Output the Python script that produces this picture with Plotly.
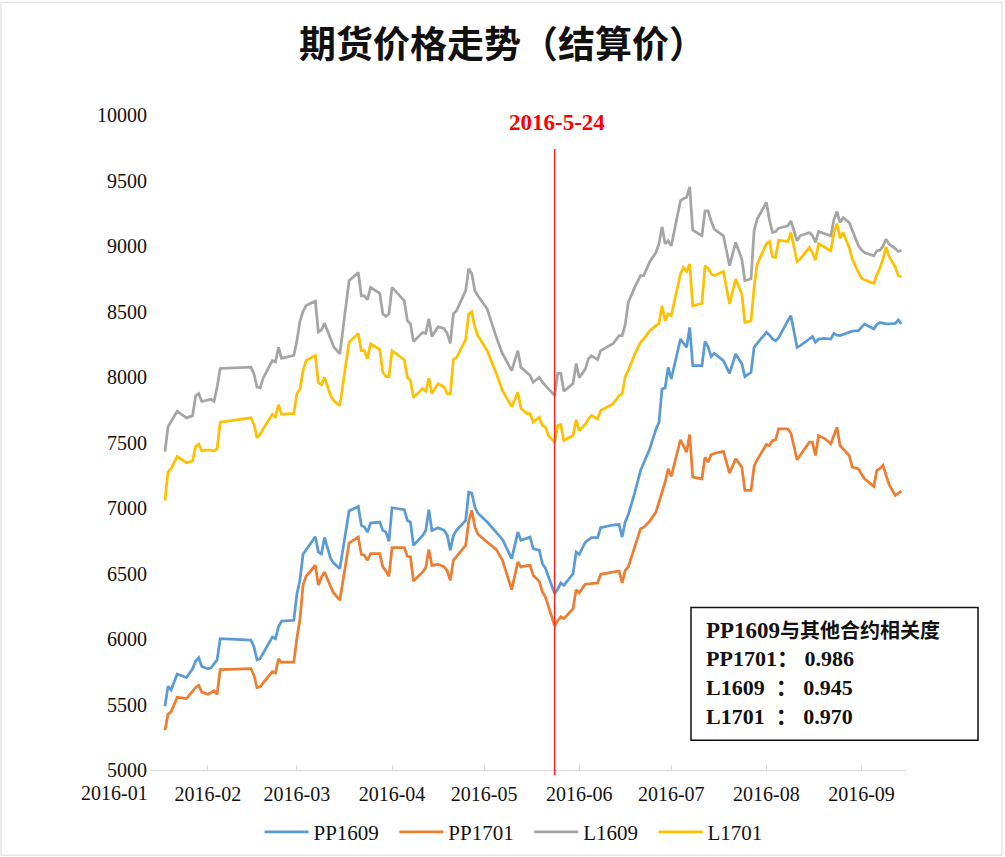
import plotly.graph_objects as go

# ---------------- data (settlement prices) ----------------
dates = [
    # Jan
    "2016-01-18", "2016-01-19", "2016-01-20", "2016-01-22", "2016-01-25", "2016-01-27", "2016-01-28", "2016-01-29", "2016-01-30",
    # Feb
    "2016-02-01", "2016-02-02", "2016-02-03", "2016-02-04", "2016-02-05", "2016-02-15", "2016-02-16", "2016-02-17", "2016-02-18",
    "2016-02-19", "2016-02-22", "2016-02-23", "2016-02-24", "2016-02-25", "2016-02-29",
    # Mar
    "2016-03-01", "2016-03-02", "2016-03-03", "2016-03-04", "2016-03-07", "2016-03-08", "2016-03-09", "2016-03-10", "2016-03-12",
    "2016-03-13", "2016-03-15", "2016-03-18", "2016-03-21", "2016-03-22", "2016-03-23", "2016-03-24", "2016-03-25", "2016-03-28",
    "2016-03-29", "2016-03-30", "2016-03-31",
    # Apr
    "2016-04-01", "2016-04-05", "2016-04-06", "2016-04-07", "2016-04-08", "2016-04-11", "2016-04-12", "2016-04-13", "2016-04-14",
    "2016-04-16", "2016-04-18", "2016-04-19", "2016-04-20", "2016-04-21", "2016-04-22", "2016-04-25", "2016-04-26", "2016-04-27",
    "2016-04-28", "2016-04-29",
    # May
    "2016-05-02", "2016-05-05", "2016-05-07", "2016-05-10", "2016-05-12", "2016-05-13", "2016-05-15", "2016-05-16", "2016-05-17",
    "2016-05-19", "2016-05-20", "2016-05-21", "2016-05-22", "2016-05-24", "2016-05-25", "2016-05-26", "2016-05-27", "2016-05-30",
    "2016-05-31",
    # Jun
    "2016-06-01", "2016-06-03", "2016-06-04", "2016-06-05", "2016-06-07", "2016-06-08", "2016-06-12", "2016-06-14", "2016-06-15",
    "2016-06-16", "2016-06-17", "2016-06-19", "2016-06-21", "2016-06-22", "2016-06-24", "2016-06-26", "2016-06-27", "2016-06-28",
    "2016-06-29", "2016-06-30",
    # Jul
    "2016-07-01", "2016-07-04", "2016-07-05", "2016-07-06", "2016-07-07", "2016-07-08", "2016-07-11", "2016-07-12", "2016-07-13",
    "2016-07-14", "2016-07-15", "2016-07-18", "2016-07-20", "2016-07-22", "2016-07-24", "2016-07-25", "2016-07-27", "2016-07-28",
    "2016-07-29",
    # Aug
    "2016-08-01", "2016-08-02", "2016-08-03", "2016-08-04", "2016-08-05", "2016-08-08", "2016-08-09", "2016-08-11", "2016-08-12",
    "2016-08-15", "2016-08-16", "2016-08-17", "2016-08-18", "2016-08-20", "2016-08-22", "2016-08-23", "2016-08-24", "2016-08-25",
    "2016-08-26", "2016-08-28", "2016-08-29", "2016-08-31",
    # Sep
    "2016-09-01", "2016-09-02", "2016-09-05", "2016-09-06", "2016-09-07", "2016-09-08", "2016-09-09", "2016-09-10", "2016-09-12",
    "2016-09-13", "2016-09-14",
]

pp1609 = [
    5487, 5639, 5612, 5733, 5706, 5773, 5830, 5857, 5790,
    5773, 5780, 5813, 5840, 6002, 5992, 5941, 5840, 5850, 5891, 6015, 6002, 6093, 6136, 6143,
    6344, 6450, 6647, 6680, 6781, 6664, 6650, 6775, 6613, 6580, 6537, 6977, 7012, 6867, 6855, 6816, 6885, 6893, 6829, 6816, 6745,
    7002, 6987, 6905, 6893, 6715, 6791, 6829, 6987, 6829, 6850, 6829, 6791, 6677, 6791, 6830, 6905, 7121, 7113, 7007, 6960,
    6893, 6816, 6760, 6613, 6816, 6753, 6770, 6778, 6690, 6677, 6575, 6540, 6473, 6347, 6380, 6428, 6410, 6499, 6664,
    6646, 6740, 6760, 6773, 6773, 6850, 6870, 6875, 6778, 6893, 6950, 7108, 7287, 7338, 7452, 7600, 7655, 7909, 7917, 8074,
    7985, 8290, 8260, 8226, 8379, 8087, 8087, 8272, 8230, 8155, 8180, 8125, 8028, 8176, 8100, 8003, 8036, 8226, 8257,
    8341, 8320, 8290, 8277, 8300, 8430, 8468, 8226, 8240, 8290, 8308, 8265, 8290, 8295, 8290, 8333, 8320, 8316, 8325, 8340, 8350, 8354,
    8380, 8405, 8367, 8400, 8417, 8410, 8405, 8405, 8409, 8435, 8405,
]

pp1701 = [
    5303, 5427, 5444, 5555, 5545, 5605, 5630, 5646, 5595,
    5578, 5590, 5605, 5578, 5766, 5773, 5723, 5629, 5635, 5666, 5750, 5740, 5847, 5823, 5823,
    6008, 6150, 6411, 6479, 6563, 6411, 6470, 6512, 6400, 6350, 6296, 6733, 6778, 6646, 6639, 6601, 6652, 6652, 6550, 6520, 6479,
    6697, 6697, 6631, 6626, 6443, 6512, 6545, 6684, 6562, 6570, 6550, 6519, 6448, 6601, 6630, 6715, 6900, 6982, 6855, 6800,
    6740, 6682, 6600, 6377, 6588, 6550, 6560, 6562, 6486, 6440, 6359, 6320, 6245, 6100, 6140, 6169, 6156, 6232, 6377,
    6352, 6418, 6420, 6425, 6428, 6494, 6510, 6519, 6428, 6524, 6550, 6700, 6842, 6852, 6900, 6969, 7050, 7134, 7197, 7299,
    7241, 7521, 7470, 7426, 7561, 7236, 7223, 7388, 7350, 7406, 7416, 7432, 7266, 7376, 7312, 7134, 7134, 7317, 7368,
    7485, 7477, 7515, 7520, 7604, 7604, 7571, 7368, 7400, 7502, 7502, 7401, 7553, 7530, 7490, 7560, 7617, 7477, 7450, 7400, 7312, 7299,
    7260, 7223, 7165, 7287, 7300, 7325, 7250, 7180, 7096, 7110, 7129,
]

l1609 = [
    7430, 7621, 7660, 7739, 7688, 7705, 7856, 7873, 7813,
    7823, 7830, 7813, 7923, 8065, 8075, 8024, 7923, 7917, 7991, 8125, 8115, 8226, 8142, 8165,
    8276, 8427, 8500, 8545, 8579, 8344, 8360, 8411, 8293, 8230, 8176, 8735, 8798, 8620, 8620, 8590, 8684, 8638, 8483, 8463, 8483,
    8684, 8582, 8430, 8407, 8270, 8341, 8331, 8445, 8310, 8384, 8369, 8331, 8257, 8483, 8506, 8659, 8826, 8788, 8659, 8620,
    8521, 8303, 8178, 8049, 8201, 8074, 8036, 8011, 7960, 7998, 7960, 7934, 7912, 7858, 8028, 8028, 7891, 7950, 8102,
    7995, 8060, 8140, 8163, 8133, 8201, 8254, 8316, 8316, 8400, 8570, 8680, 8773, 8773, 8880, 8950, 9017, 9146, 9017, 9040,
    9001, 9345, 9362, 9370, 9451, 9121, 9078, 9268, 9268, 9190, 9129, 9078, 8850, 9027, 8900, 8735, 8750, 9116, 9205,
    9332, 9200, 9103, 9110, 9136, 9154, 9192, 9040, 9078, 9103, 9080, 9027, 9110, 9095, 9078, 9200, 9263, 9179, 9217, 9179, 9121, 9001,
    8970, 8950, 8925, 8963, 8968, 9000, 9052, 9014, 8980, 8958, 8968,
]

l1701 = [
    7057, 7275, 7300, 7393, 7346, 7359, 7470, 7487, 7436,
    7443, 7440, 7436, 7453, 7655, 7688, 7638, 7537, 7560, 7604, 7715, 7695, 7789, 7715, 7722,
    7873, 7907, 8050, 8125, 8165, 7957, 7940, 7997, 7856, 7820, 7782, 8265, 8333, 8201, 8201, 8140, 8254, 8209, 8036, 8003, 8003,
    8201, 8132, 7998, 7973, 7843, 7912, 7891, 7990, 7873, 7950, 7922, 7873, 7873, 8132, 8148, 8285, 8483, 8498, 8379, 8316,
    8201, 8026, 7896, 7774, 7884, 7761, 7721, 7721, 7655, 7693, 7630, 7617, 7553, 7502, 7630, 7637, 7515, 7553, 7673,
    7591, 7640, 7680, 7706, 7680, 7744, 7795, 7858, 7871, 8003, 8050, 8170, 8265, 8290, 8354, 8390, 8409, 8544, 8430, 8481,
    8468, 8786, 8836, 8806, 8862, 8544, 8562, 8849, 8830, 8790, 8773, 8806, 8557, 8748, 8633, 8417, 8430, 8684, 8862,
    9017, 9034, 8918, 8913, 9045, 9034, 9103, 8882, 8900, 8989, 8950, 8893, 9017, 8990, 8963, 9100, 9171, 9060, 9103, 8989, 8900, 8798,
    8755, 8740, 8715, 8780, 8832, 8900, 8994, 8918, 8840, 8773, 8765,
]

series_names = ["PP1609", "PP1701", "L1609", "L1701"]
series_values = [pp1609, pp1701, l1609, l1701]
series_colors = ["#5B9BD5", "#ED7D31", "#A5A5A5", "#FFC000"]

marker_date = "2016-05-24"
marker_label = "2016-5-24"
first_month_label = "2016-01"
title_text = "期货价格走势（结算价）"
corr_title = "PP1609"
corr_title_cn = "与其他合约相关度"
corr_lines = ["PP1701\uff1a 0.986", "L1609\u00a0\u00a0\uff1a 0.945", "L1701\u00a0\u00a0\uff1a 0.970"]

for v in series_values:
    assert len(v) == len(dates), (len(v), len(dates))

# ---------------- figure ----------------
# The screenshot squeezes the page vertically by ~849/857, so the design is
# laid out on a slightly taller canvas (reference pixel y -> y * SY).
SY = 857 / 849
W, H = 1005, 865
L, R = 150, 99
T = round(114 * SY)
B = H - round(770 * SY)
pw, ph = W - L - R, H - T - B

def px_x(p):
    return (p - L) / pw

def px_y(p):
    return (H - B - p * SY) / ph

SERIF = "Liberation Serif, Times New Roman, serif"
MIXED = "Liberation Serif, Noto Sans CJK SC, serif"
GAP = "\u00a0\u00a0"   # extra spacing between legend entries

fig = go.Figure()
for name, vals, col in zip(series_names, series_values, series_colors):
    fig.add_trace(go.Scatter(x=dates, y=vals, mode="lines", name=name + GAP,
                             line=dict(color=col, width=2.75)))

fig.update_layout(
    width=W, height=H, autosize=False,
    margin=dict(l=L, r=R, t=T, b=B),
    paper_bgcolor="white", plot_bgcolor="white",
    title=dict(text=title_text, x=0.5, xanchor="center", y=1 - 45 * SY / H, yanchor="middle",
               font=dict(family="Noto Sans CJK SC", size=37, color="#111111", weight="bold")),
    xaxis=dict(type="date", range=["2016-01-13 03:00", "2016-09-15 12:00"],
               tick0="2016-01-01", dtick="M1", tickformat="%Y-%m",
               ticks="inside", ticklen=5, tickcolor="#D9D9D9",
               showline=True, linecolor="#D9D9D9", linewidth=1,
               showgrid=False, zeroline=False,
               tickfont=dict(family=SERIF, size=20, color="#111111"),
               ticklabelstandoff=6),
    yaxis=dict(range=[5000, 10000], dtick=500, tickformat="d", showgrid=False, zeroline=False,
               showline=False, ticks="",
               tickfont=dict(family=SERIF, size=20, color="#111111"),
               ticklabelstandoff=2),
    legend=dict(orientation="h", x=px_x(519), xanchor="center", y=px_y(832), yanchor="middle",
                font=dict(family=SERIF, size=21, color="#111111"), itemwidth=44,
                bgcolor="rgba(0,0,0,0)"),
    showlegend=True,
)

# marker line for 2016-05-24
fig.add_shape(type="line", xref="x", yref="paper", x0=marker_date, x1=marker_date,
              y0=-0.008, y1=px_y(148), line=dict(color="#FF2020", width=1.5))
fig.add_annotation(xref="x", yref="paper", x=marker_date, y=px_y(121), xshift=2,
                   text="<b>" + marker_label + "</b>", showarrow=False,
                   font=dict(family=SERIF, size=23, color="#FF0000"),
                   xanchor="center", yanchor="middle")

# first month label (its tick lies left of the plotted range)
fig.add_annotation(xref="paper", yref="paper", x=px_x(114), y=px_y(793),
                   text=first_month_label, showarrow=False,
                   font=dict(family=SERIF, size=20, color="#111111"),
                   xanchor="center", yanchor="middle")

# correlation box
fig.add_shape(type="rect", xref="paper", yref="paper",
              x0=px_x(691), x1=px_x(978), y0=px_y(740), y1=px_y(607),
              line=dict(color="#111111", width=1.5), fillcolor="white", layer="above")
fig.add_annotation(xref="paper", yref="paper", x=px_x(704), y=px_y(630),
                   text="<b>" + corr_title + "<span style='font-size:20px'>" + corr_title_cn + "</span></b>",
                   showarrow=False, xanchor="left", yanchor="middle",
                   font=dict(family=MIXED, size=23, color="#111111"))
for i, line_text in enumerate(corr_lines):
    fig.add_annotation(xref="paper", yref="paper", x=px_x(704), y=px_y(658 + 29 * i),
                       text="<b>" + line_text + "</b>", showarrow=False,
                       xanchor="left", yanchor="middle",
                       font=dict(family=MIXED, size=22, color="#111111"))

# chart-area border
fig.add_shape(type="rect", xref="paper", yref="paper",
              x0=px_x(1), x1=px_x(1002), y0=px_y(855), y1=px_y(1),
              line=dict(color="#D9D9D9", width=1), layer="below")

fig.write_html("out.html",
               config={"responsive": False, "displayModeBar": False},
               post_script="document.body.style.margin='0';document.body.style.overflow='hidden';")
